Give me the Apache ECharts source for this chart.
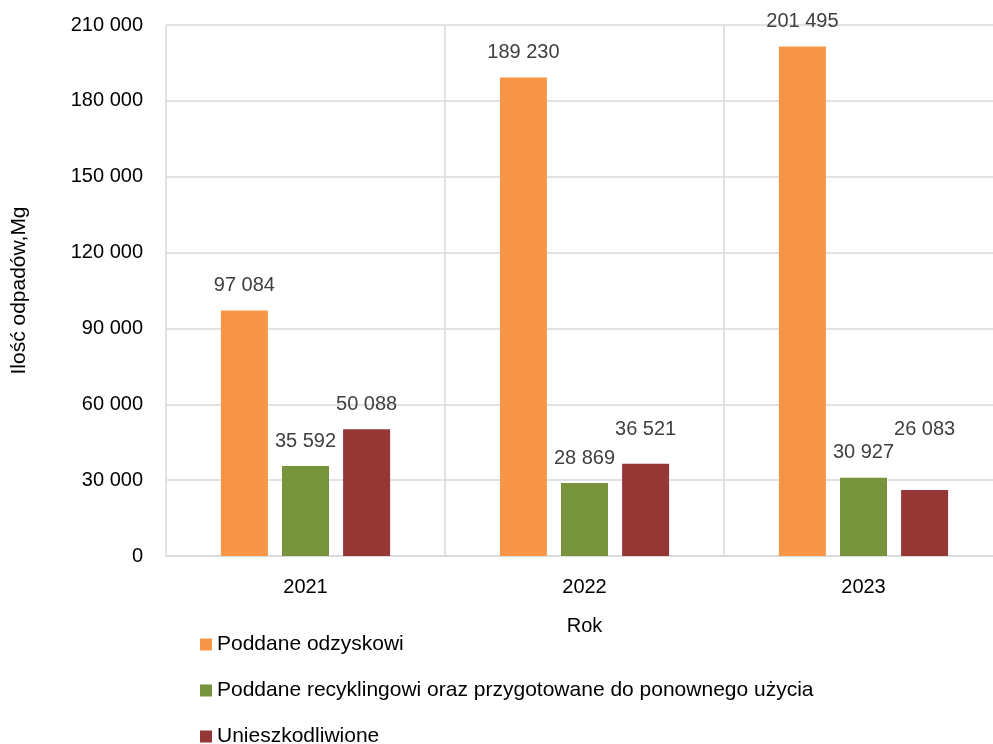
<!DOCTYPE html>
<html>
<head>
<meta charset="utf-8">
<script src="https://cdn.jsdelivr.net/npm/echarts@6/dist/echarts.min.js"></script>
<style>
  html, body { margin: 0; padding: 0; background: #fff; }
  #chart { width: 993px; height: 744px; }
</style>
</head>
<body>
<div id="chart"></div>
<script>
// dane z wykresu
const years = ['2021', '2022', '2023'];
const odzysk = [97084, 189230, 201495];
const recykling = [35592, 28869, 30927];
const unieszk = [50088, 36521, 26083];
const seriesNames = [
  'Poddane odzyskowi',
  'Poddane recyklingowi oraz przygotowane do ponownego użycia',
  'Unieszkodliwione'
];
const colors = ['#F79646', '#77933C', '#953735'];

// etykiety przesunięte ręcznie (jak w oryginale)
const labelShift = { 2: [0, 9, 36] };

const font = 'Liberation Sans';

function fmt(v) {
  return String(v).replace(/\B(?=(\d{3})+(?!\d))/g, ' ');
}

function makeSeries(idx, values) {
  return {
    name: seriesNames[idx],
    type: 'bar',
    barWidth: 47,
    barGap: '30%',
    itemStyle: { color: colors[idx] },
    label: {
      show: true,
      position: 'top',
      distance: 15,
      color: '#404040',
      fontFamily: font,
      fontSize: 20,
      formatter: p => fmt(p.value)
    },
    data: values.map((v, i) => {
      const s = labelShift[idx] ? labelShift[idx][i] : 0;
      return s ? { value: v, label: { distance: 15 + s } } : v;
    })
  };
}

const chart = echarts.init(document.getElementById('chart'));
chart.setOption({
  animation: false,
  textStyle: { fontFamily: font },
  grid: { left: 166, width: 837, top: 25, height: 531, outerBoundsMode: 'none', containLabel: false },
  legend: {
    orient: 'vertical',
    left: 195,
    top: 629,
    height: 150,
    itemWidth: 12,
    itemHeight: 12,
    itemGap: 25,
    icon: 'rect',
    textStyle: { fontFamily: font, fontSize: 21, color: '#000' },
    data: seriesNames
  },
  xAxis: {
    type: 'category',
    data: years,
    name: 'Rok',
    nameLocation: 'middle',
    nameGap: 60,
    nameTextStyle: { fontSize: 20, color: '#000', fontFamily: font },
    axisLine: { lineStyle: { color: '#d9d9d9', width: 1.5 } },
    axisTick: { show: false },
    axisLabel: { fontSize: 20, color: '#000', margin: 21 },
    splitLine: { show: true, lineStyle: { color: '#d9d9d9', width: 1.5 } }
  },
  yAxis: {
    type: 'value',
    min: 0,
    max: 210000,
    interval: 30000,
    name: 'Ilość odpadów,Mg',
    nameLocation: 'middle',
    nameGap: 136,
    nameRotate: 90,
    nameTextStyle: { fontSize: 21, color: '#000', fontFamily: font },
    axisLine: { show: false },
    axisTick: { show: false },
    axisLabel: { fontSize: 20, color: '#000', margin: 23, formatter: v => fmt(v) },
    splitLine: { lineStyle: { color: '#d9d9d9', width: 1.5 } }
  },
  series: [
    makeSeries(0, odzysk),
    makeSeries(1, recykling),
    makeSeries(2, unieszk)
  ]
});
</script>
</body>
</html>
